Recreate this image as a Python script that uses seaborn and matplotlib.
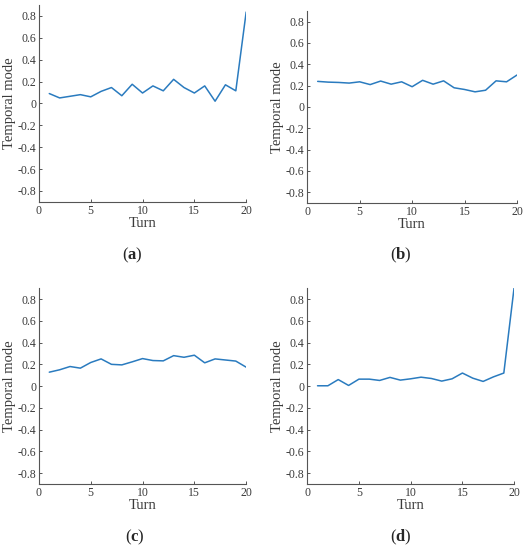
import numpy as np
import pandas as pd
import seaborn as sns
import matplotlib.pyplot as plt

turns = list(range(1, 21))

mode_a = [0.09, 0.05, 0.065, 0.08, 0.06, 0.11, 0.145, 0.07, 0.175, 0.095,
          0.16, 0.115, 0.22, 0.145, 0.095, 0.16, 0.02, 0.17, 0.115, 0.835]
mode_b = [0.24, 0.233, 0.23, 0.224, 0.236, 0.21, 0.243, 0.214, 0.236, 0.19,
          0.25, 0.214, 0.245, 0.18, 0.164, 0.142, 0.157, 0.245, 0.236, 0.30]
mode_c = [0.128, 0.15, 0.18, 0.165, 0.217, 0.25, 0.20, 0.195, 0.223, 0.253,
          0.235, 0.232, 0.28, 0.265, 0.284, 0.214, 0.25, 0.24, 0.23, 0.174]
mode_d = [0.003, 0.003, 0.06, 0.006, 0.064, 0.064, 0.052, 0.08, 0.055, 0.067,
          0.082, 0.07, 0.046, 0.067, 0.12, 0.073, 0.043, 0.085, 0.12, 0.91]

panel_labels = ['a', 'b', 'c', 'd']
x_ticks = [0, 5, 10, 15, 20]
y_ticks = [-0.8, -0.6, -0.4, -0.2, 0, 0.2, 0.4, 0.6, 0.8]
y_tick_labels = ['-0.8', '-0.6', '-0.4', '-0.2', '0', '0.2', '0.4', '0.6', '0.8']

df = pd.DataFrame({
    'Turn': turns * 4,
    'Temporal mode': mode_a + mode_b + mode_c + mode_d,
    'panel': [p for p in panel_labels for _ in turns],
})

sns.set_style('ticks')
plt.rcParams['font.family'] = ['Liberation Serif', 'DejaVu Serif']
plt.rcParams['mathtext.fontset'] = 'custom'
plt.rcParams['mathtext.rm'] = 'Liberation Serif'
plt.rcParams['mathtext.bf'] = 'Liberation Serif:bold'

fig = plt.figure(figsize=(5.26, 5.5), dpi=100)

# axes boxes (left, bottom, width, height) in figure fraction
boxes = {
    'a': [0.074, 0.633, 0.394, 0.358],
    'b': [0.584, 0.631, 0.399, 0.349],
    'c': [0.074, 0.120, 0.394, 0.356],
    'd': [0.584, 0.120, 0.3935, 0.356],
}
label_pos = {'a': (0.252, 0.536), 'b': (0.762, 0.536),
             'c': (0.257, 0.023), 'd': (0.762, 0.023)}

for p in panel_labels:
    ax = fig.add_axes(boxes[p])
    sub = df[df['panel'] == p]
    sns.lineplot(data=sub, x='Turn', y='Temporal mode', ax=ax,
                 color='#2a7bbf', linewidth=1.1)
    ax.set_xlim(0, 20)
    ax.set_ylim(-0.9, 0.9)
    ax.set_xticks(x_ticks)
    ax.set_yticks(y_ticks)
    ax.set_yticklabels(y_tick_labels)
    ax.tick_params(direction='in', length=2.5, width=0.6, labelsize=8.5,
                   colors='#3a3a3a', pad=2)
    ax.set_xlabel('Turn', fontsize=10.5, color='#3a3a3a', labelpad=0)
    ax.set_ylabel('Temporal mode', fontsize=10.5, color='#3a3a3a', labelpad=1)
    for side in ['top', 'right']:
        ax.spines[side].set_visible(False)
    for side in ['left', 'bottom']:
        ax.spines[side].set_color('#555555')
        ax.spines[side].set_linewidth(0.8)
    fig.text(label_pos[p][0], label_pos[p][1], r'($\mathbf{' + p + '}$)',
             fontsize=12, ha='center', va='center')

fig.savefig('out.png', dpi=100)
